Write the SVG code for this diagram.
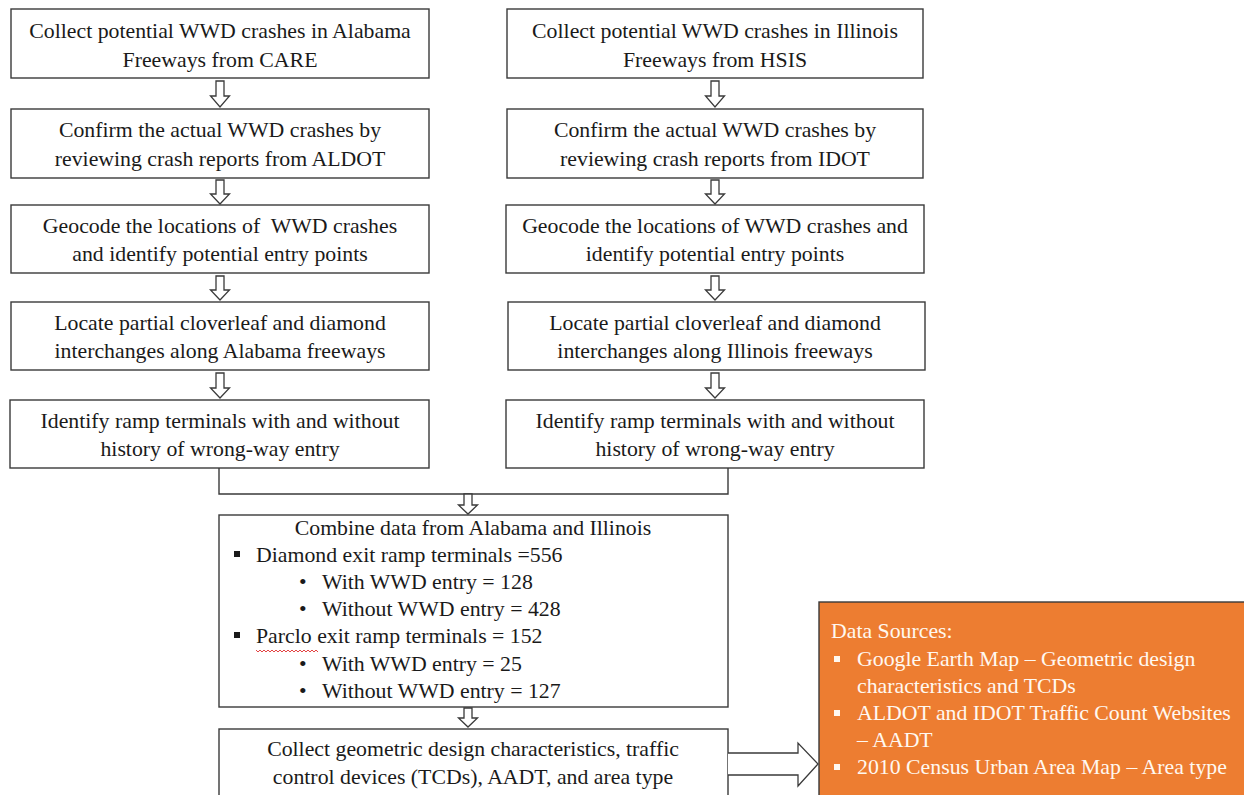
<svg xmlns="http://www.w3.org/2000/svg" width="1244" height="795" viewBox="0 0 1244 795">
  <style>
    .box { fill: #ffffff; stroke: #3a3a3a; stroke-width: 1.4; }
    .src { fill: #ED7D31; stroke: #3a3a3a; stroke-width: 1.4; }
    .t { font-family: "Liberation Serif", "Times New Roman", serif; font-size: 21.8px; fill: #1a1a1a; }
    .c { text-anchor: middle; }
    .w { fill: #fff8f0; }
    .arrow { fill: #ffffff; stroke: #3a3a3a; stroke-width: 1.3; stroke-linejoin: miter; }
    .line { fill: none; stroke: #3a3a3a; stroke-width: 1.4; }
  </style>

  <!-- Alabama column -->
  <g id="al-collect">
    <rect class="box" x="11" y="9" width="418" height="69"/>
    <text class="t c" x="220" y="38">Collect potential WWD crashes in Alabama</text>
    <text class="t c" x="220" y="67">Freeways from CARE</text>
  </g>
  <g id="al-confirm">
    <rect class="box" x="11" y="109" width="418" height="69"/>
    <text class="t c" x="220" y="137">Confirm the actual WWD crashes by</text>
    <text class="t c" x="220" y="166">reviewing crash reports from ALDOT</text>
  </g>
  <g id="al-geocode">
    <rect class="box" x="11" y="205" width="418" height="68"/>
    <text class="t c" x="220" y="233">Geocode the locations of&#160; WWD crashes</text>
    <text class="t c" x="220" y="261">and identify potential entry points</text>
  </g>
  <g id="al-locate">
    <rect class="box" x="11" y="302" width="418" height="68"/>
    <text class="t c" x="220" y="330">Locate partial cloverleaf and diamond</text>
    <text class="t c" x="220" y="358">interchanges along Alabama freeways</text>
  </g>
  <g id="al-identify">
    <rect class="box" x="10" y="400" width="419" height="68"/>
    <text class="t c" x="220" y="428">Identify ramp terminals with and without</text>
    <text class="t c" x="220" y="456">history of wrong-way entry</text>
  </g>

  <!-- Illinois column -->
  <g id="il-collect">
    <rect class="box" x="507" y="9" width="416" height="69"/>
    <text class="t c" x="715" y="38">Collect potential WWD crashes in Illinois</text>
    <text class="t c" x="715" y="67">Freeways from HSIS</text>
  </g>
  <g id="il-confirm">
    <rect class="box" x="507" y="109" width="416" height="69"/>
    <text class="t c" x="715" y="137">Confirm the actual WWD crashes by</text>
    <text class="t c" x="715" y="166">reviewing crash reports from IDOT</text>
  </g>
  <g id="il-geocode">
    <rect class="box" x="506" y="205" width="418" height="68"/>
    <text class="t c" x="715" y="233">Geocode the locations of WWD crashes and</text>
    <text class="t c" x="715" y="261">identify potential entry points</text>
  </g>
  <g id="il-locate">
    <rect class="box" x="508" y="302" width="417" height="68"/>
    <text class="t c" x="715" y="330">Locate partial cloverleaf and diamond</text>
    <text class="t c" x="715" y="358">interchanges along Illinois freeways</text>
  </g>
  <g id="il-identify">
    <rect class="box" x="506" y="400" width="418" height="68"/>
    <text class="t c" x="715" y="428">Identify ramp terminals with and without</text>
    <text class="t c" x="715" y="456">history of wrong-way entry</text>
  </g>

  <!-- Combined summary -->
  <g id="combine">
    <rect class="box" x="219" y="515" width="509" height="192"/>
    <text class="t c" x="473" y="535">Combine data from Alabama and Illinois</text>
    <rect x="234" y="551" width="6" height="6" fill="#1a1a1a"/>
    <text class="t" x="256" y="562">Diamond exit ramp terminals =556</text>
    <text class="t" x="299" y="589">•</text>
    <text class="t" x="322" y="589">With WWD entry = 128</text>
    <text class="t" x="299" y="616">•</text>
    <text class="t" x="322" y="616">Without WWD entry = 428</text>
    <rect x="234" y="632" width="6" height="6" fill="#1a1a1a"/>
    <text class="t" x="256" y="643">Parclo exit ramp terminals = 152</text>
    <path d="M256,650 l2,2 l2,-2 l2,2 l2,-2 l2,2 l2,-2 l2,2 l2,-2 l2,2 l2,-2 l2,2 l2,-2 l2,2 l2,-2 l2,2 l2,-2 l2,2 l2,-2 l2,2 l2,-2 l2,2 l2,-2 l2,2 l2,-2 l2,2 l2,-2 l2,2 l2,-2 l2,2 l2,-2 l2,2" fill="none" stroke="#e03030" stroke-width="0.9"/>
    <text class="t" x="299" y="671">•</text>
    <text class="t" x="322" y="671">With WWD entry = 25</text>
    <text class="t" x="299" y="698">•</text>
    <text class="t" x="322" y="698">Without WWD entry = 127</text>
  </g>

  <g id="collect-features">
    <rect class="box" x="219" y="729" width="509" height="80"/>
    <text class="t c" x="473" y="756">Collect geometric design characteristics, traffic</text>
    <text class="t c" x="473" y="784">control devices (TCDs), AADT, and area type</text>
  </g>

  <g id="data-sources">
    <rect class="src" x="819" y="602" width="440" height="210"/>
    <text class="t w" x="831" y="638">Data Sources:</text>
    <rect x="834" y="656" width="6" height="6" fill="#fff8f0"/>
    <text class="t w" x="857" y="666">Google Earth Map – Geometric design</text>
    <text class="t w" x="857" y="693">characteristics and TCDs</text>
    <rect x="834" y="710" width="6" height="6" fill="#fff8f0"/>
    <text class="t w" x="857" y="720">ALDOT and IDOT Traffic Count Websites</text>
    <text class="t w" x="857" y="747">– AADT</text>
    <rect x="834" y="764" width="6" height="6" fill="#fff8f0"/>
    <text class="t w" x="857" y="774">2010 Census Urban Area Map – Area type</text>
  </g>

  <!-- Connectors -->
  <g id="connectors">
    <!-- Alabama column arrows -->
    <path class="arrow" d="M216,81 H224 V96 H229.5 L220,107 L210.5,96 H216 Z"/>
    <path class="arrow" d="M216,180 H224 V194 H229.5 L220,204 L210.5,194 H216 Z"/>
    <path class="arrow" d="M216,276 H224 V290 H229.5 L220,300 L210.5,290 H216 Z"/>
    <path class="arrow" d="M216,373 H224 V388 H229.5 L220,398 L210.5,388 H216 Z"/>
    <!-- Illinois column arrows -->
    <path class="arrow" d="M711,81 H719 V96 H724.5 L715,107 L705.5,96 H711 Z"/>
    <path class="arrow" d="M711,180 H719 V194 H724.5 L715,204 L705.5,194 H711 Z"/>
    <path class="arrow" d="M711,276 H719 V290 H724.5 L715,300 L705.5,290 H711 Z"/>
    <path class="arrow" d="M711,373 H719 V388 H724.5 L715,398 L705.5,388 H711 Z"/>
    <!-- Merge bracket -->
    <path class="line" d="M219,468 V494 H728 V468"/>
    <path class="arrow" d="M464,494 H472 V505 H477.5 L468,514 L458.5,505 H464 Z"/>
    <!-- Combined to feature collection -->
    <path class="arrow" d="M464,708 H472 V718 H477.5 L468,727 L458.5,718 H464 Z"/>
    <!-- Data sources arrow -->
    <path class="arrow" d="M728,753 H798 V743 L818,764 L798,786 V775 H728"/>
  </g>
</svg>
